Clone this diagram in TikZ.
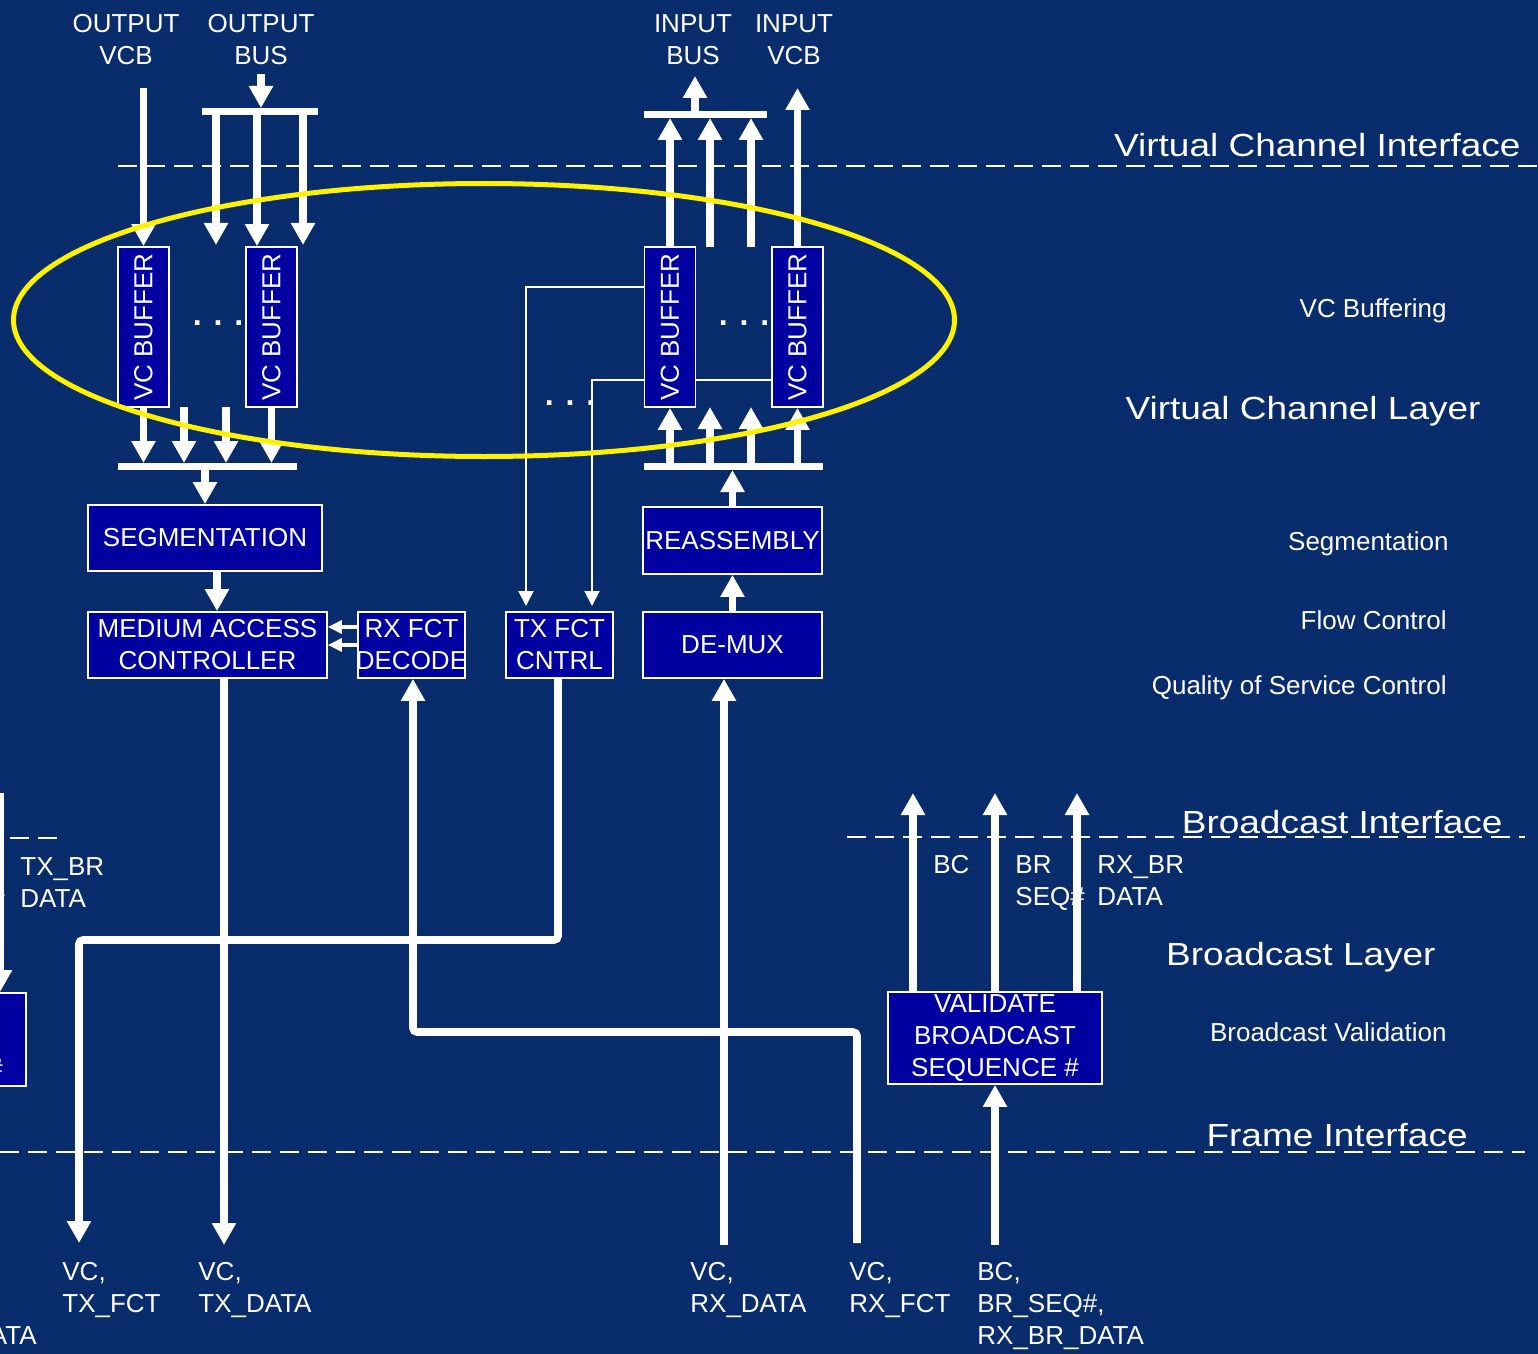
\documentclass[tikz,border=0pt]{standalone}
\usepackage{fontspec}
\setmainfont{Liberation Sans}
\usepackage{graphicx}
\usetikzlibrary{arrows.meta}
\definecolor{slidebg}{RGB}{8,44,108}
\definecolor{boxblue}{RGB}{0,0,160}
\newcommand{\widetxt}[1]{\scalebox{1.156}[1]{#1}}

\begin{document}
\begin{tikzpicture}[x=0.5pt, y=-0.5pt, >={Triangle[width=11.5pt,length=11pt]},
    font=\fontsize{13}{16}\selectfont, text=white,
    blk/.style={draw=white, line width=0.9pt, fill=boxblue, inner sep=0pt, align=center},
    buf/.style={blk, rotate=90, minimum width=80pt, minimum height=25.5pt},
    lbl/.style={inner sep=0pt, align=left},
    laylbl/.style={inner sep=0pt, font=\fontsize{16}{19}\selectfont},
    dotlbl/.style={inner sep=0pt, font=\fontsize{16}{19}\selectfont\bfseries},
    fat/.style={line width=3.8pt, white},
    busbar/.style={line width=3.8pt, white},
    thinarrow/.style={line width=1pt, white, >={Triangle[width=7.5pt,length=7.5pt]}},
    medarrow/.style={line width=1.6pt, white, >={Triangle[width=6.5pt,length=7pt]}},
    iface/.style={line width=1pt, white, dash pattern=on 9.5pt off 4.5pt},
    ring/.style={line width=2.5pt, yellow},
  ]

  % Slide background
  \fill[slidebg] (0,0) rectangle (1538,1354);
  \useasboundingbox (0,0) rectangle (1538,1354);

  % Interface lines
  \draw[iface] (118,166) -- (1538,166);
  \draw[iface] (847,837) -- (1525,837);
  \draw[iface] (10,838) -- (62,838);
  \draw[iface] (0,1152) -- (1525,1152);

  % Layer names on the right
  \node[laylbl, anchor=base east] (vcif) at (1521,157) {\widetxt{Virtual Channel Interface}};
  \node[laylbl, anchor=base east] (vclay) at (1481,419) {\widetxt{Virtual Channel Layer}};
  \node[laylbl, anchor=base east] (bcif) at (1503,833) {\widetxt{Broadcast Interface}};
  \node[laylbl, anchor=base east] (bclay) at (1436,965) {\widetxt{Broadcast Layer}};
  \node[laylbl, anchor=base east] (frif) at (1468,1146) {\widetxt{Frame Interface}};
  \node[lbl, anchor=base east] (fbuf) at (1447,317) {VC Buffering};
  \node[lbl, anchor=base east] (fseg) at (1449,550) {Segmentation};
  \node[lbl, anchor=base east] (fflow) at (1447,629) {Flow Control};
  \node[lbl, anchor=base east] (fqos) at (1447,694) {Quality of Service Control};
  \node[lbl, anchor=base east] (fval) at (1447,1041) {Broadcast Validation};

  % Blocks
  \node[buf] (ob1) at (143.5,327) {VC BUFFER};
  \node[buf] (ob2) at (271.5,327) {VC BUFFER};
  \node[buf] (ib1) at (670,327) {VC BUFFER};
  \node[buf] (ib2) at (797.5,327) {VC BUFFER};
  \node[blk, minimum width=117pt, minimum height=33pt] (seg) at (205,538) {SEGMENTATION};
  \node[blk, minimum width=119.5pt, minimum height=33pt] (mac) at (207.5,645) {MEDIUM ACCESS\\CONTROLLER};
  \node[blk, minimum width=53.5pt, minimum height=33pt] (rxd) at (411.5,645) {\makebox[0pt]{RX FCT}\\\makebox[0pt]{DECODE}};
  \node[blk, minimum width=53.5pt, minimum height=33pt] (txc) at (559.5,645) {TX FCT\\CNTRL};
  \node[blk, minimum width=89.5pt, minimum height=33.5pt] (reas) at (732.5,540.5) {REASSEMBLY};
  \node[blk, minimum width=89.5pt, minimum height=33pt] (dmx) at (732.5,645) {DE-MUX};
  \node[blk, minimum width=107pt, minimum height=46pt] (vbs) at (995,1038) {VALIDATE\\BROADCAST\\SEQUENCE \#};
  \node[blk, minimum width=107pt, minimum height=46.5pt] (gbs) at (-81,1039.5) {\phantom{VALIDATE}\\BROADCAST\\SEQUENCE \#};

  % Dots between buffers
  \node[dotlbl, anchor=base] (dots1) at (218,325) {. . .};
  \node[dotlbl, anchor=base] (dots2) at (744,325) {. . .};
  \node[dotlbl, anchor=base] (dots3) at (570,405) {. . .};

  % Signal names
  \node[lbl, anchor=north, align=center] (ovcb) at (126,14) {OUTPUT\\VCB};
  \node[lbl, anchor=north, align=center] (obus) at (261,14) {OUTPUT\\BUS};
  \node[lbl, anchor=north, align=center] (ibus) at (693,14) {INPUT\\BUS};
  \node[lbl, anchor=north, align=center] (ivcb) at (794,14) {INPUT\\VCB};
  \node[lbl, anchor=north west] (txfct) at (62,1262) {VC,\\TX\_FCT};
  \node[lbl, anchor=north west] (txdat) at (198,1262) {VC,\\TX\_DATA};
  \node[lbl, anchor=north west] (rxdat) at (690,1262) {VC,\\RX\_DATA};
  \node[lbl, anchor=north west] (rxfct) at (849,1262) {VC,\\RX\_FCT};
  \node[lbl, anchor=north west] (rxbr) at (977,1262) {BC,\\BR\_SEQ\#,\\RX\_BR\_DATA};
  \node[lbl, anchor=north east] (txbr) at (37,1326) {TX\_BR\_DATA};
  \node[lbl, anchor=north west] (bcup) at (933,855) {BC};
  \node[lbl, anchor=north west] (sequp) at (1015,855) {BR\\SEQ\#};
  \node[lbl, anchor=north west] (datup) at (1097,855) {RX\_BR\\DATA};
  \node[lbl, anchor=north west] (seqdn) at (-65,857) {BR\\SEQ\#};
  \node[lbl, anchor=north west] (datdn) at (20,857) {TX\_BR\\DATA};

  % Output side
  \draw[fat,->] (143.5,88) -- (ob1.east);
  \draw[fat,->] (261,74) -- (261,108);
  \draw[busbar] (202,111.5) -- (318,111.5);
  \draw[fat,->] (216,111) -- (216,245);
  \draw[fat,->] (257,111) -- (257,0 |- ob2.east);
  \draw[fat,->] (303,111) -- (303,245);
  \draw[fat,->] (ob1.west) -- (ob1.west |- 0,463);
  \foreach \x in {184,226}
    \draw[fat,->] (\x,407) -- (\x,463);
  \draw[fat,->] (ob2.west) -- (ob2.west |- 0,463);
  \draw[busbar] (118,466.5) -- (297,466.5);
  \draw[fat,->] (205,466) -- (seg.north);
  \draw[fat,->] (217,0 |- seg.south) -- (217,0 |- mac.north);

  % Input side
  \draw[fat,->] (ib1.east) -- (670,118);
  \foreach \x in {710,751}
    \draw[fat,->] (\x,247) -- (\x,118);
  \draw[busbar] (644,114.5) -- (767,114.5);
  \draw[fat,->] (695,114) -- (695,76);
  \draw[fat,->] (ib2.east) -- (797.5,88);
  \draw[busbar] (644,466.5) -- (823,466.5);
  \draw[fat,->] (670,466) -- (ib1.west);
  \foreach \x in {710,751}
    \draw[fat,->] (\x,466) -- (\x,407);
  \draw[fat,->] (797.5,466) -- (ib2.west);
  \draw[fat,->] (reas.north) -- (732.5,470);
  \draw[fat,->] (dmx.north) -- (reas.south);
  \draw[fat,->] (724,1245) -- (724,0 |- dmx.south);

  % Flow control taps
  \draw[thinarrow,->] (ib1.north |- 0,287) -- (526,287) -- (526,606);
  \draw[thinarrow,->] (ib1.north |- 0,380) -- (592,380) -- (592,606);
  \draw[thinarrow] (ib1.south |- 0,380) -- (ib2.north |- 0,380);
  \draw[medarrow,->] (rxd.west |- 0,627) -- (mac.east |- 0,627);
  \draw[medarrow,->] (rxd.west |- 0,645) -- (mac.east |- 0,645);

  % To and from the frame interface
  \draw[fat,->] (224,0 |- mac.south) -- (224,1245);
  \draw[fat,->,rounded corners=2pt] (558,0 |- txc.south) -- (558,940) -- (79,940) -- (79,1243);
  \draw[fat,->,rounded corners=2pt] (857,1243) -- (857,1032) -- (413,1032) -- (413,0 |- rxd.south);

  % Broadcast
  \draw[fat,->] (995,1245) -- (vbs.south);
  \foreach \x in {913,995,1077}
    \draw[fat,->] (\x,0 |- vbs.north) -- (\x,793);
  \draw[fat,->] (0,793) -- (0,0 |- gbs.north);

  % VC buffering
  \draw[ring] (484,320) ellipse [x radius=235.25pt, y radius=68.25pt];

\end{tikzpicture}
\end{document}
